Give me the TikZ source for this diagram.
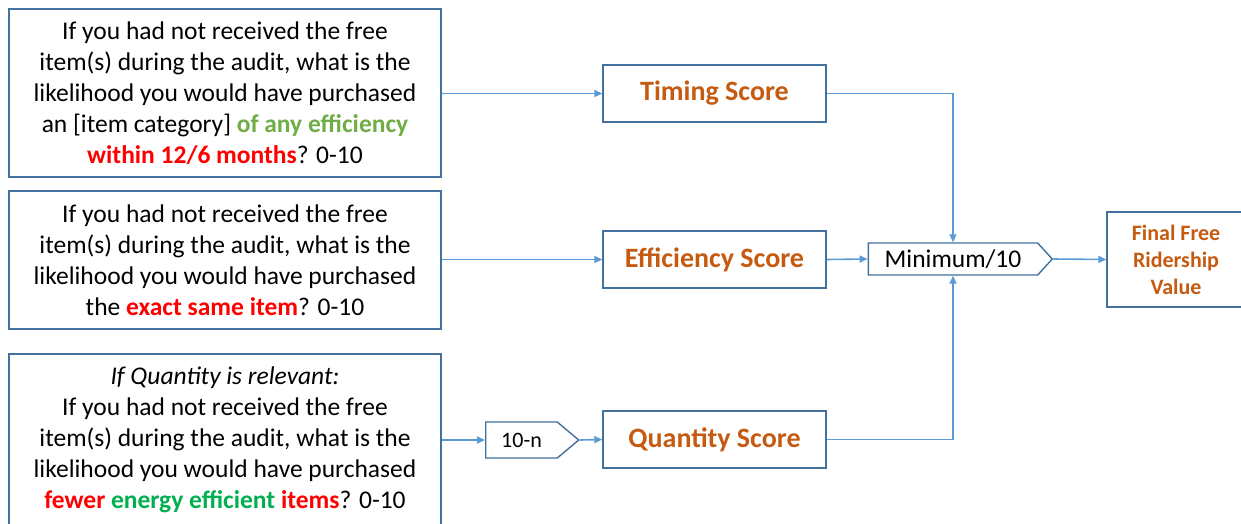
\documentclass[tikz,border=0pt]{standalone}
\usepackage{fontspec}
\setmainfont{Carlito}
\usetikzlibrary{arrows.meta,positioning,shapes.symbols}
\definecolor{boxblue}{RGB}{65,113,156}
\definecolor{linkblue}{RGB}{91,155,213}
\definecolor{scoreorange}{RGB}{197,90,17}
\definecolor{anygreen}{RGB}{112,173,71}
\definecolor{energygreen}{RGB}{0,176,80}
\tikzset{
flow/.style={x=1pt,y=-1pt},
question/.style={draw=boxblue,line width=1.4pt,minimum width=432pt,align=center,
    inner sep=0pt,font=\fontsize{25.5}{31}\selectfont},
score/.style={draw=boxblue,line width=1.4pt,minimum width=223pt,minimum height=57pt,
    text=scoreorange,font=\fontsize{28}{34}\selectfont\bfseries},
calc box/.style={draw=boxblue,line width=1.4pt,signal,signal to=east,inner sep=0pt,
    font=\fontsize{#1}{#1}\selectfont},
link/.style={draw=linkblue,line width=1.6pt,-{Triangle[length=8pt,width=7pt]}},
}
\newcommand{\hl}[2]{\textcolor{#1}{\bfseries #2}}
\begin{document}
\begin{tikzpicture}[flow]
    \useasboundingbox (0,0) rectangle (1241,523);

    \node[question,minimum height=168pt] (q1) at (225,93)
        {If you had not received the free\\
         item(s) during the audit, what is the\\
         likelihood you would have purchased\\
         an [item category] \hl{anygreen}{of any efficiency}\\
         \hl{red}{within 12/6 months}? 0-10};
    \node[question,minimum height=138pt] (q2) at (225,260)
        {If you had not received the free\\
         item(s) during the audit, what is the\\
         likelihood you would have purchased\\
         the \hl{red}{exact same item}? 0-10};
    \node[question,minimum height=172pt] (q3) at (225,440)
        {\itshape If Quantity is relevant:\\
         If you had not received the free\\
         item(s) during the audit, what is the\\
         likelihood you would have purchased\\
         \hl{red}{fewer} \hl{energygreen}{energy efficient} \hl{red}{items}? 0-10};

    \node[score] (timing) at (714.5,93.5) {Timing Score};
    \node[score] (efficiency) at (714.5,259.5) {Efficiency Score};
    \node[score] (quantity) at (714.5,439.5) {Quantity Score};

    \node[calc box=22,minimum width=93pt,minimum height=36pt,signal pointer angle=80] (tenminus) at (521.5,440) {10-n};
    \node[calc box=25.5,minimum width=184pt,minimum height=32pt,signal pointer angle=95] (minimum) at (953,259) {Minimum/10};

    \node[draw=boxblue,line width=1.4pt,minimum width=138pt,minimum height=95pt,align=center,
        text=scoreorange,font=\fontsize{22}{27}\selectfont\bfseries] (final) at (1176,259.5)
        {Final Free\\Ridership\\Value};

    \draw[link] (q1.east |- timing.west) -- (timing.west);
    \draw[link] (q2.east |- efficiency.west) -- (efficiency.west);
    \draw[link] (q3.east |- tenminus.west) -- (tenminus.west);
    \draw[link] (tenminus.east) -- (quantity.west);
    \draw[link] (efficiency.east) -- (minimum.west);
    \draw[link] (timing.east) -| (minimum.north);
    \draw[link] (quantity.east) -| (minimum.south);
    \draw[link] (minimum.east) -- (final.west);
\end{tikzpicture}
\end{document}
